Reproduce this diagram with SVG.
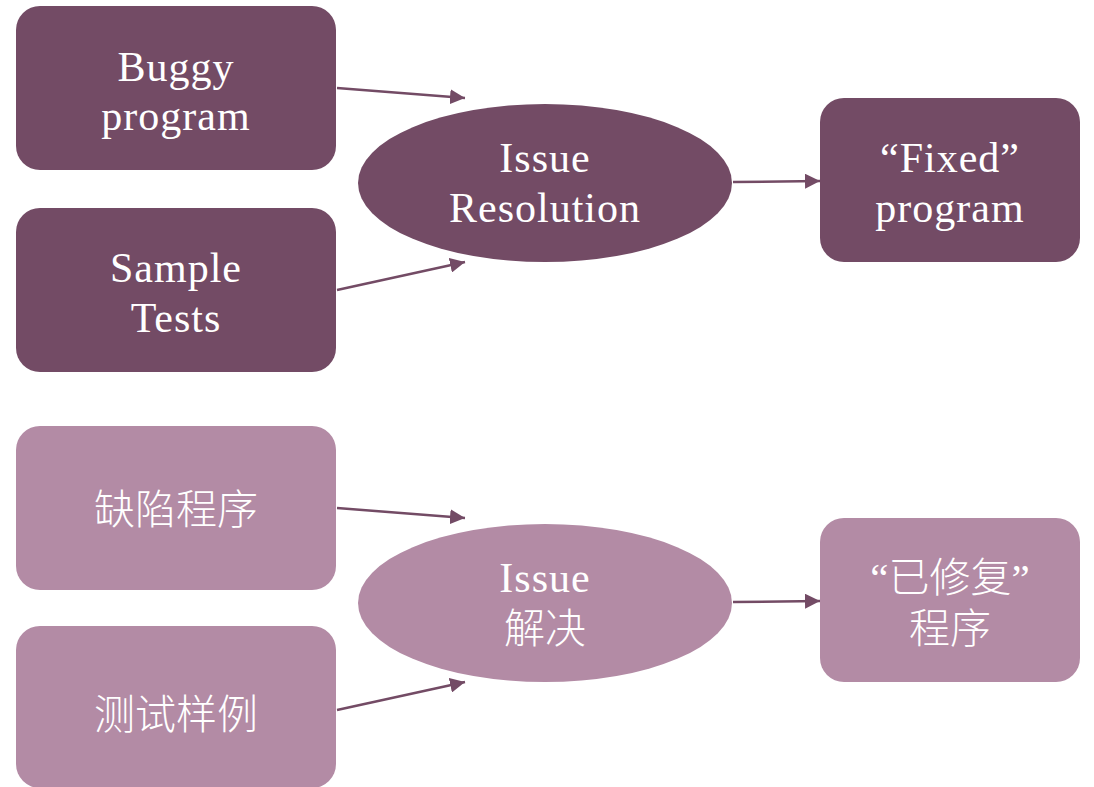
<svg xmlns="http://www.w3.org/2000/svg" width="1094" height="787" viewBox="0 0 1094 787">
  <defs>
    <marker id="arrow" viewBox="0 0 10 10" refX="10" refY="5" markerWidth="6" markerHeight="6" markerUnits="strokeWidth" orient="auto">
      <path d="M0,0 L10,5 L0,10 z" fill="#734B65"/>
    </marker>
    <style>
      .dark { fill: #734B65; }
      .light { fill: #B38BA5; }
      .lbl { fill: #ffffff; font-family: "Liberation Serif", "Noto Sans CJK SC", serif; font-size: 42px; letter-spacing: 1px; text-anchor: middle; }
      .cjk { fill: #ffffff; font-family: "Liberation Serif", "Noto Sans CJK SC", sans-serif; font-size: 41px; font-weight: 300; text-anchor: middle; }
      .edge { stroke: #734B65; stroke-width: 2.5; fill: none; marker-end: url(#arrow); }
    </style>
  </defs>
  <rect width="1094" height="787" fill="#ffffff"/>

  <!-- English flow -->
  <g id="buggy-program">
    <rect class="dark" x="16" y="6" width="320" height="164" rx="24"/>
    <text class="lbl" x="176" y="81">Buggy</text>
    <text class="lbl" x="176" y="130">program</text>
  </g>
  <g id="sample-tests">
    <rect class="dark" x="16" y="208" width="320" height="164" rx="24"/>
    <text class="lbl" x="176" y="282">Sample</text>
    <text class="lbl" x="176" y="332">Tests</text>
  </g>
  <g id="issue-resolution">
    <ellipse class="dark" cx="545" cy="183" rx="187" ry="79"/>
    <text class="lbl" x="545" y="172">Issue</text>
    <text class="lbl" x="545" y="222">Resolution</text>
  </g>
  <g id="fixed-program">
    <rect class="dark" x="820" y="98" width="260" height="164" rx="24"/>
    <text class="lbl" x="950" y="172">“Fixed”</text>
    <text class="lbl" x="950" y="222">program</text>
  </g>

  <!-- Chinese flow -->
  <g id="buggy-program-zh">
    <rect class="light" x="16" y="426" width="320" height="164" rx="24"/>
    <text class="cjk" x="176" y="524">缺陷程序</text>
  </g>
  <g id="sample-tests-zh">
    <rect class="light" x="16" y="626" width="320" height="162" rx="24"/>
    <text class="cjk" x="176" y="729">测试样例</text>
  </g>
  <g id="issue-resolution-zh">
    <ellipse class="light" cx="545" cy="603" rx="187" ry="79"/>
    <text class="lbl" x="545" y="592">Issue</text>
    <text class="cjk" x="545" y="643">解决</text>
  </g>
  <g id="fixed-program-zh">
    <rect class="light" x="820" y="518" width="260" height="164" rx="24"/>
    <text class="cjk" x="950" y="592">“已修复”</text>
    <text class="cjk" x="950" y="643">程序</text>
  </g>

  <g id="connectors">
    <line class="edge" x1="337" y1="88" x2="465" y2="98"/>
    <line class="edge" x1="337" y1="290" x2="465" y2="262"/>
    <line class="edge" x1="733" y1="182" x2="820" y2="181"/>
    <line class="edge" x1="337" y1="508" x2="465" y2="518"/>
    <line class="edge" x1="337" y1="710" x2="465" y2="682"/>
    <line class="edge" x1="733" y1="602" x2="820" y2="601"/>
  </g>
</svg>
